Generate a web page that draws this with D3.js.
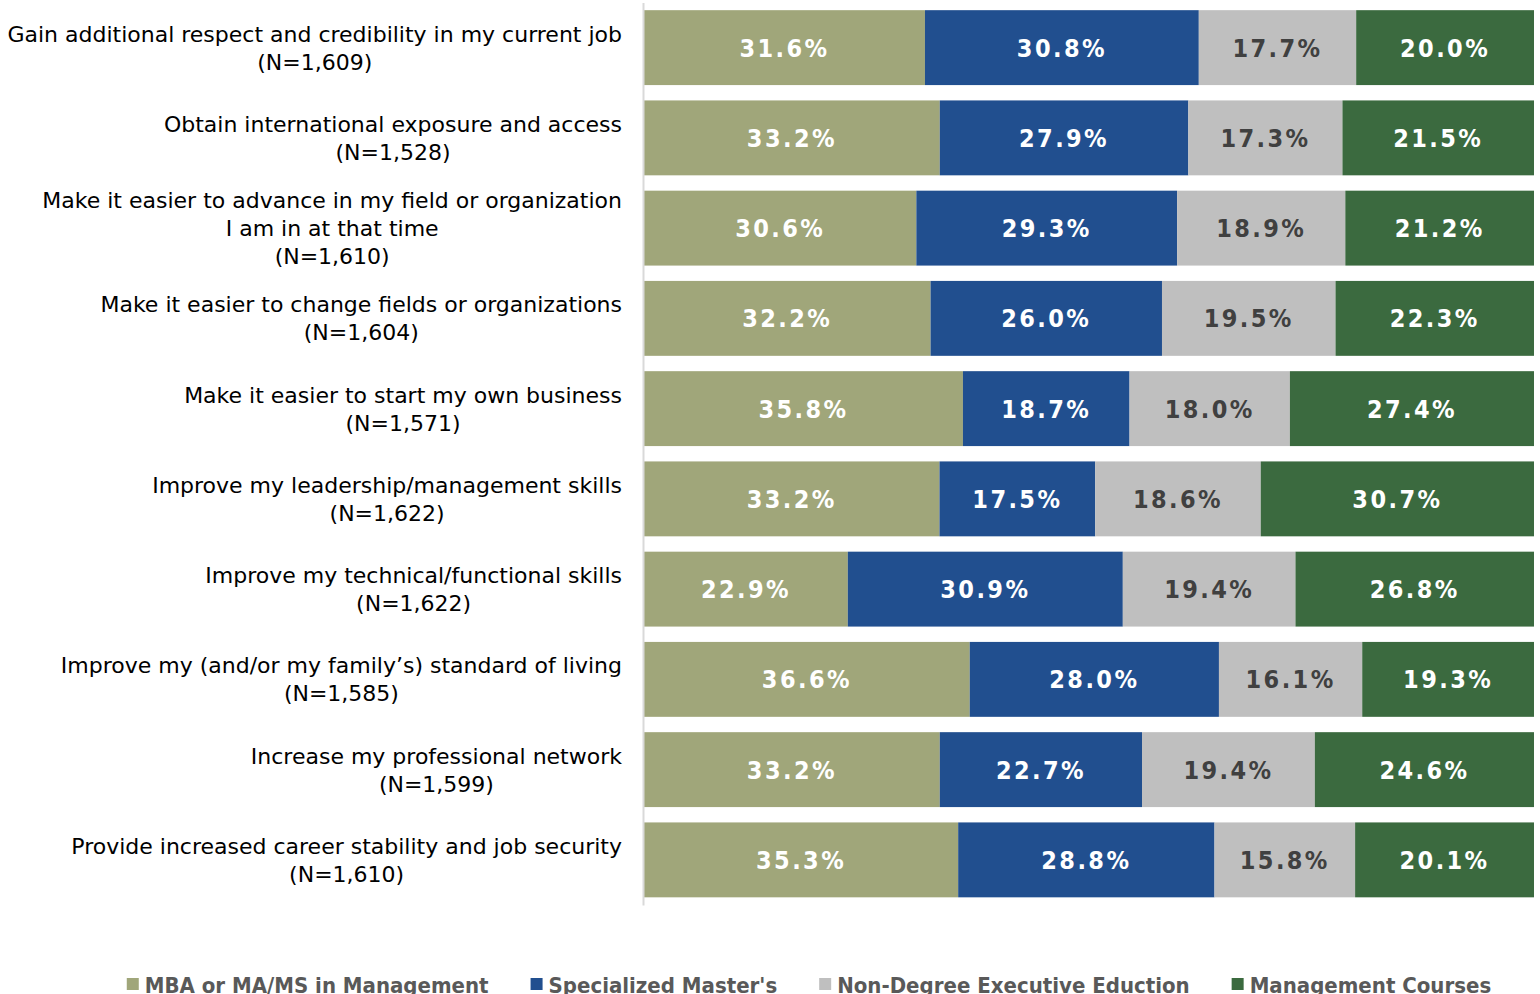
<!DOCTYPE html>
<html>
<head>
<meta charset="utf-8">
<script src="https://cdn.jsdelivr.net/npm/d3@7"></script>
<style>
html,body{margin:0;padding:0;background:#fff;overflow:hidden;}
svg{display:block;}
</style>
</head>
<body>
<svg id="chart" width="1540" height="994"></svg>
<script>
const categories = [
  ["Gain additional respect and credibility in my current job", "(N=1,609)"],
  ["Obtain international exposure and access", "(N=1,528)"],
  ["Make it easier to advance in my field or organization", "I am in at that time", "(N=1,610)"],
  ["Make it easier to change fields or organizations", "(N=1,604)"],
  ["Make it easier to start my own business", "(N=1,571)"],
  ["Improve my leadership/management skills", "(N=1,622)"],
  ["Improve my technical/functional skills", "(N=1,622)"],
  ["Improve my (and/or my family\u2019s) standard of living", "(N=1,585)"],
  ["Increase my professional network", "(N=1,599)"],
  ["Provide increased career stability and job security", "(N=1,610)"]
];
const seriesNames = ["MBA or MA/MS in Management", "Specialized Master's", "Non-Degree Executive Eduction", "Management Courses"];
const mba = [31.6, 33.2, 30.6, 32.2, 35.8, 33.2, 22.9, 36.6, 33.2, 35.3];
const specialized = [30.8, 27.9, 29.3, 26.0, 18.7, 17.5, 30.9, 28.0, 22.7, 28.8];
const nonDegree = [17.7, 17.3, 18.9, 19.5, 18.0, 18.6, 19.4, 16.1, 19.4, 15.8];
const mgmtCourses = [20.0, 21.5, 21.2, 22.3, 27.4, 30.7, 26.8, 19.3, 24.6, 20.1];
const colors = ["#a0a67a", "#214f8f", "#bfbfbf", "#3b6a3f"];
const labelColors = ["#ffffff", "#ffffff", "#404040", "#ffffff"];

const seriesValues = [mba, specialized, nonDegree, mgmtCourses];
const rows = categories.map((c, i) => {
  const o = {idx: i};
  seriesValues.forEach((s, k) => o["s" + k] = s[i]);
  return o;
});
const keys = seriesNames.map((_, k) => "s" + k);

const svg = d3.select("#chart");
const left = 644, right = 1534;
const x = d3.scaleLinear().domain([0, 1]).range([left, right]);
const y = d3.scaleBand().domain(d3.range(categories.length)).range([2.5, 905]).paddingInner(0.17).paddingOuter(0.085);

// normalized stack (100% stacked)
const stack = d3.stack().keys(keys).offset(d3.stackOffsetExpand);
const stacked = stack(rows);

const FONT = "'DejaVu Sans', sans-serif";
const FONT_C = "'DejaVu Sans Condensed', 'DejaVu Sans', sans-serif";

const g = svg.append("g");
stacked.forEach((layer, k) => {
  const lg = g.append("g");
  lg.selectAll("rect").data(layer).enter().append("rect")
    .attr("x", d => x(d[0]))
    .attr("y", (d, i) => y(i))
    .attr("width", d => x(d[1]) - x(d[0]))
    .attr("height", y.bandwidth())
    .attr("fill", colors[k]);
  lg.selectAll("text").data(layer).enter().append("text")
    .attr("x", d => (x(d[0]) + x(d[1])) / 2)
    .attr("y", (d, i) => y(i) + y.bandwidth() / 2)
    .attr("dy", "0.36em")
    .attr("text-anchor", "middle")
    .attr("font-family", FONT_C)
    .attr("font-weight", "bold")
    .attr("font-size", 25)
    .attr("letter-spacing", 2.4)
    .attr("fill", labelColors[k])
    .text((d, i) => seriesValues[k][i].toFixed(1) + "%");
});

// axis line (category axis)
const yAxis = d3.axisLeft(y).tickSize(0).tickFormat("");
const ax = svg.append("g").attr("transform", `translate(${left - 1},0)`).call(yAxis);
ax.select(".domain").attr("stroke", "#d9d9d9").attr("stroke-width", 2);

// category labels
const labelRight = 622;
const lineH = 28;
categories.forEach((lines, i) => {
  const cy = y(i) + y.bandwidth() / 2;
  const t = svg.append("text")
    .attr("font-family", FONT)
    .attr("font-size", 22)
    .attr("fill", "#000")
    .attr("text-anchor", "middle");
  const spans = lines.map((ln, j) => t.append("tspan")
    .attr("y", cy + (j - (lines.length - 1) / 2) * lineH)
    .attr("dy", "0.36em")
    .text(ln));
  let maxW = 0;
  spans.forEach(s => { maxW = Math.max(maxW, s.node().getComputedTextLength()); });
  spans.forEach(s => s.attr("x", labelRight - maxW / 2));
});

// legend
const legend = svg.append("g");
let cursor = 0;
seriesNames.forEach((name, k) => {
  const it = legend.append("g");
  it.append("rect").attr("x", cursor).attr("y", -15).attr("width", 12).attr("height", 12).attr("fill", colors[k]);
  const tx = it.append("text").attr("x", cursor + 18).attr("y", 0)
    .attr("font-family", FONT_C).attr("font-size", 22).attr("font-weight", "bold")
    .attr("fill", "#595959").text(name);
  const w = tx.node().getComputedTextLength();
  cursor += 18 + w + 42;
});
const totalW = cursor - 42;
legend.attr("transform", `translate(${809 - totalW / 2}, 993)`);
</script>
</body>
</html>
